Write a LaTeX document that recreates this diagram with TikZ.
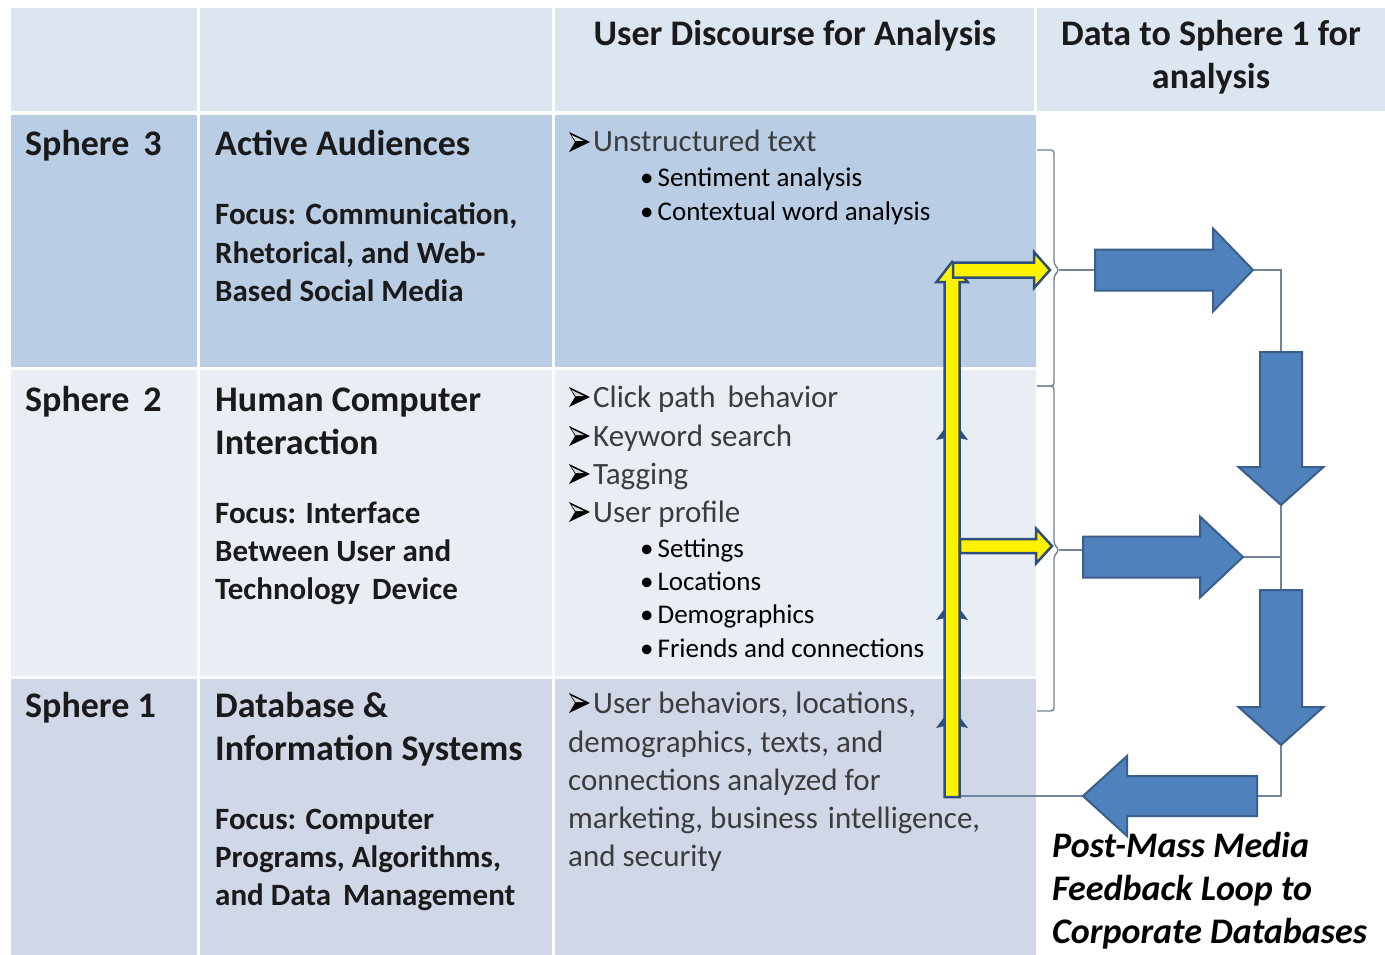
\documentclass[tikz,border=0pt]{standalone}
\usepackage{fontspec}
\setmainfont{Carlito}

\definecolor{hdrblue}{HTML}{DCE6F1}
\definecolor{rowthree}{HTML}{B9CDE5}
\definecolor{rowtwo}{HTML}{E9EDF4}
\definecolor{rowone}{HTML}{D0D8E8}
\definecolor{ink}{HTML}{1A1A1A}
\definecolor{itemgrey}{HTML}{3C3C3C}
\definecolor{connline}{HTML}{72839A}
\definecolor{arrowblue}{HTML}{4F81BD}
\definecolor{arrowedge}{HTML}{3A5F8C}
\definecolor{yedge}{HTML}{2F4F7A}

% block arrow: style, name, tail x, tail y, direction, length,
% shaft half-width, head half-width, head length
\newcommand\blockarrow[9]{%
  \begin{scope}[shift={(#3,#4)},rotate=#5]
    \draw[#1] (0,-#7) -- ({#6-#9},-#7) -- ({#6-#9},-#8) -- (#6,0)
      -- ({#6-#9},#8) -- ({#6-#9},#7) -- (0,#7) -- cycle;
    \coordinate (#2tail) at (0,0);
    \coordinate (#2tip) at (#6,0);
  \end{scope}}

\tikzset{
  % arrowhead bullet in front of the list items
  itemarrow/.pic={
    \fill[black] (0,-10) -- (21,0) -- (0,10) -- (6,0) -- cycle;
    \fill[white!70!gray] (2.5,-7) -- (15,-1) -- (6.5,-1) -- cycle;
  }
}

\begin{document}
\begin{tikzpicture}[x=1pt,y=-1pt,
  title/.style={anchor=base west,inner sep=0pt,text=ink,font=\fontsize{36}{43}\selectfont\bfseries},
  focus/.style={anchor=base west,inner sep=0pt,text=ink,font=\fontsize{31}{38}\selectfont\bfseries},
  colhead/.style={anchor=base,inner sep=0pt,text=ink,font=\fontsize{36}{43}\selectfont\bfseries},
  item/.style={anchor=base west,inner sep=0pt,text=itemgrey,font=\fontsize{31}{38}\selectfont},
  subitem/.style={anchor=base west,inner sep=0pt,text=black,font=\fontsize{27}{33}\selectfont},
  caption/.style={anchor=base west,inner sep=0pt,text=black,font=\fontsize{36}{43}\selectfont\bfseries\itshape},
  conn/.style={draw=connline,line width=1.4pt},
  bluearrow/.style={fill=arrowblue,draw=arrowedge,line width=2pt},
  yellowarrow/.style={fill=yellow,draw=yedge,line width=2.5pt},
  barb/.style={fill=yedge,draw=none}
]
\useasboundingbox (0,0) rectangle (1385,955);
\fill[white] (0,0) rectangle (1385,955);

% ---- table cells ----
\fill[hdrblue] (11,8) rectangle (197,111);
\fill[hdrblue] (200,8) rectangle (552,111);
\fill[hdrblue] (555,8) rectangle (1034,111);
\fill[hdrblue] (1037,8) rectangle (1385,111);

\fill[rowthree] (11,115) rectangle (197,367);
\fill[rowthree] (200,115) rectangle (552,367);
\fill[rowthree] (555,115) rectangle (1036,367);

\fill[rowtwo] (11,370) rectangle (197,676);
\fill[rowtwo] (200,370) rectangle (552,676);
\fill[rowtwo] (555,370) rectangle (1036,676);

\fill[rowone] (11,679) rectangle (197,955);
\fill[rowone] (200,679) rectangle (552,955);
\fill[rowone] (555,679) rectangle (1036,955);

% ---- column headings ----
\node[colhead] (hdisc) at (795,46) {User Discourse for Analysis};
\node[colhead] (hdata1) at (1211,46) {Data to Sphere 1 for};
\node[colhead] (hdata2) at (1211,89) {analysis};

% ---- sphere 3 ----
\node[title] (s3) at (25,156) {Sphere\hspace{14pt}3};
\node[title] (s3t) at (215,156) {Active Audiences};
\node[focus] (s3f1) at (215,225) {Focus: Communication,};
\node[focus] (s3f2) at (215,263) {Rhetorical, and Web-};
\node[focus] (s3f3) at (215,301) {Based Social Media};

\pic (s3b1) at (569,142) {itemarrow};
\node[item] (s3i1) at (593,152) {Unstructured text};
\node[subitem] (s3u1) at (640,186) {•\hspace{4pt}Sentiment analysis};
\node[subitem] (s3u2) at (640,220) {•\hspace{4pt}Contextual word analysis};

% ---- sphere 2 ----
\node[title] (s2) at (25,411) {Sphere\hspace{14pt}2};
\node[title] (s2t1) at (215,411) {Human Computer};
\node[title] (s2t2) at (215,454) {Interaction};
\node[focus] (s2f1) at (215,523) {Focus: Interface};
\node[focus] (s2f2) at (215,561) {Between User and};
\node[focus] (s2f3) at (215,599) {Technology\hspace{12pt}Device};

\pic (s2b1) at (569,397) {itemarrow};
\node[item] (s2i1) at (593,407) {Click path\hspace{12pt}behavior};
\pic (s2b2) at (569,436) {itemarrow};
\node[item] (s2i2) at (593,446) {Keyword search};
\pic (s2b3) at (569,474) {itemarrow};
\node[item] (s2i3) at (593,484) {Tagging};
\pic (s2b4) at (569,512) {itemarrow};
\node[item] (s2i4) at (593,522) {User profile};
\node[subitem] (s2u1) at (640,557) {•\hspace{4pt}Settings};
\node[subitem] (s2u2) at (640,590) {•\hspace{4pt}Locations};
\node[subitem] (s2u3) at (640,623) {•\hspace{4pt}Demographics};
\node[subitem] (s2u4) at (640,657) {•\hspace{4pt}Friends and connections};

% ---- sphere 1 ----
\node[title] (s1) at (25,717) {Sphere 1};
\node[title] (s1t1) at (215,717) {Database \&};
\node[title] (s1t2) at (215,760) {Information Systems};
\node[focus] (s1f1) at (215,829) {Focus: Computer};
\node[focus] (s1f2) at (215,867) {Programs, Algorithms,};
\node[focus] (s1f3) at (215,905) {and Data\hspace{12pt}Management};

\pic (s1b1) at (569,703) {itemarrow};
\node[item] (s1i1) at (593,713) {User behaviors, locations,};
\node[item] (s1i2) at (568,752) {demographics, texts, and};
\node[item] (s1i3) at (568,790) {connections analyzed for};
\node[item] (s1i4) at (568,828) {marketing, business\hspace{10pt}intelligence,};
\node[item] (s1i5) at (568,866) {and security};

% ---- caption ----
\node[caption] (cap1) at (1052,857) {Post-Mass Media};
\node[caption] (cap2) at (1052,900) {Feedback Loop to};
\node[caption] (cap3) at (1052,943) {Corporate Databases};

% ---- braces gathering spheres 3 and 2 ----
\draw[conn,rounded corners=3pt] (1037,150) -- (1054,150) -- (1054,264)
  -- (1059,270) -- (1054,276) -- (1054,386) -- (1037,386);
\coordinate (b1mid) at (1059,270);
\draw[conn,rounded corners=3pt] (1037,386) -- (1054,386) -- (1054,544)
  -- (1059,550) -- (1054,556) -- (1054,711) -- (1037,711);
\coordinate (b2mid) at (1059,550);

% ---- connectors of the loop (drawn under the arrows) ----
\coordinate (a1tailc) at (1095,270);
\coordinate (a2tailc) at (1083,550);
\coordinate (d1c) at (1281,270);
\coordinate (a2tipc) at (1243,557);
\coordinate (d2botc) at (1281,796);
\coordinate (a4tailc) at (1257,796);
\coordinate (a4tipc) at (1083,796);
\coordinate (yvtailc) at (952,796);

\draw[conn] (b1mid) -- (a1tailc);
\draw[conn] (b2mid) -- (a2tailc);
\draw[conn] (a1tailc) -| (d2botc) -- (a4tailc);
\draw[conn] (a2tipc) -- (a2tipc -| d1c);
\draw[conn] (a4tipc) -- (yvtailc);

% ---- blue block arrows of the loop ----
\blockarrow{bluearrow}{a1}{1095}{270}{0}{158}{20.5}{41.5}{40}
\blockarrow{bluearrow}{a2}{1083}{557}{0}{160}{20.5}{40.5}{43}
\blockarrow{bluearrow}{d1}{1281}{352}{-90}{153}{21}{42.5}{38}
\blockarrow{bluearrow}{d2}{1281}{590}{-90}{155}{21}{42.5}{38}
\blockarrow{bluearrow}{a4}{1257}{796}{180}{174}{20}{40}{44}

% ---- yellow upward path with branches ----
\blockarrow{yellowarrow}{yv}{952}{797}{90}{535}{7.5}{15.5}{20}
\foreach \yy in {428,608,716}{
  \fill[barb] (945,\yy) -- (936,\yy+12) -- (945,\yy+10) -- cycle;
  \fill[barb] (959,\yy) -- (968,\yy+12) -- (959,\yy+10) -- cycle;
}
\blockarrow{yellowarrow}{y1}{953}{270}{0}{97}{7.5}{18}{16}
\blockarrow{yellowarrow}{y2}{960}{546}{0}{92}{7}{17.5}{16}

\end{tikzpicture}
\end{document}
